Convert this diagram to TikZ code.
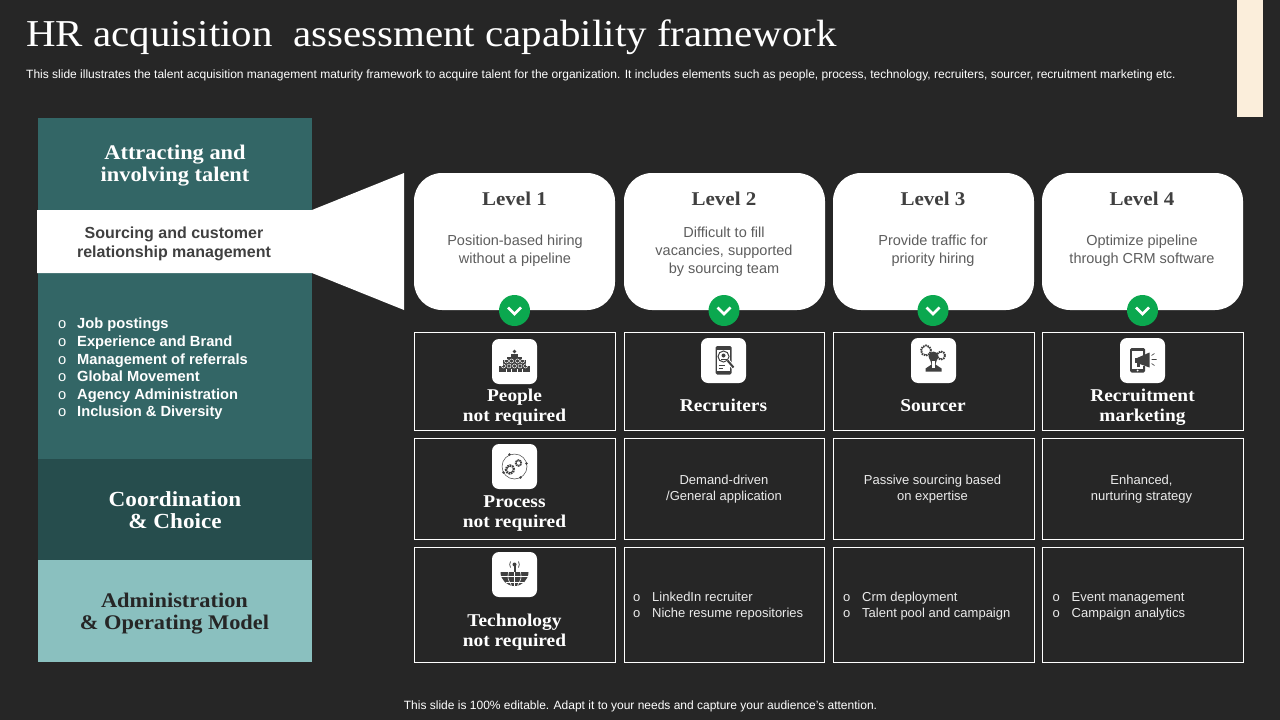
\documentclass[tikz,border=0pt]{standalone}
\usepackage{fontspec}
\setmainfont[FakeStretch=1.077]{Liberation Serif}
\setsansfont{Liberation Sans}
\usetikzlibrary{calc}
\definecolor{slidebg}{HTML}{262626}
\definecolor{tealmid}{HTML}{336666}
\definecolor{tealdark}{HTML}{264D4D}
\definecolor{teallight}{HTML}{8AC0BF}
\definecolor{cream}{HTML}{FBEEDB}
\definecolor{btngreen}{HTML}{0BA84F}
\definecolor{inkgrey}{HTML}{404040}
\newcommand{\cardradius}{28pt}
\newcommand{\iconradius}{7pt}
\tikzset{
  panel/.style={fill=#1, draw=none, minimum width=274pt, anchor=north west, inner sep=0pt},
  head/.style={align=center, font=\fontsize{20.8}{22}\selectfont\bfseries, inner sep=0pt},
  card/.style={fill=white, rounded corners=\cardradius},
  levelname/.style={font=\fontsize{19.5}{22}\selectfont\bfseries, text=inkgrey, inner sep=0pt},
  leveltext/.style={font=\sffamily\fontsize{14.5}{17.8}\selectfont, text=inkgrey!85, align=center, inner sep=0pt},
  cell/.style={draw=white, line width=1pt, anchor=north west, inner sep=0pt},
  celltext/.style={font=\sffamily\fontsize{13}{16}\selectfont, text=white!92!black, align=center, inner sep=0pt},
  cellhead/.style={font=\fontsize{18}{20}\selectfont\bfseries, text=white, align=center, inner sep=0pt},
  celllist/.style={font=\sffamily\fontsize{13}{16}\selectfont, text=white!92!black, align=left, anchor=west, inner sep=0pt},
  iconbox/.style={fill=white, rounded corners=\iconradius, minimum size=45pt, inner sep=0pt},
  gobtn/.style={circle, fill=btngreen, minimum size=31pt, inner sep=0pt},
  glyph/.style={fill=inkgrey, draw=none},
  glyphline/.style={draw=inkgrey, line width=1pt}
}
\newcommand{\chevron}[1]{\draw[white, line width=2.5pt] ($(#1)+(-6.5,-3)$) -- ($(#1)+(0,3.5)$) -- ($(#1)+(6.5,-3)$);}
\newcommand{\bul}{\makebox[19pt][l]{\mdseries o}}
\begin{document}
\begin{tikzpicture}[x=1pt,y=-1pt]
\useasboundingbox (0,0) rectangle (1280,720);
\fill[slidebg] (0,0) rectangle (1280,720);
\fill[cream] (1237,0) rectangle (1263,117);
%title
\node[anchor=west, text=white, font=\fontsize{38}{40}\selectfont, inner sep=0pt] (title) at (26,37) {HR acquisition\ \ assessment capability framework};
\node[anchor=west, text=white, font=\sffamily\fontsize{12}{14}\selectfont, inner sep=0pt] (subtitle) at (26,75) {This slide illustrates the talent acquisition management maturity framework to acquire talent for the organization. It includes elements such as people, process, technology, recruiters, sourcer, recruitment marketing etc.};
\node[text=white, font=\sffamily\fontsize{12}{14}\selectfont, inner sep=0pt] (footer) at (640.5,706) {This slide is 100\% editable. Adapt it to your needs and capture your audience's attention.};
%left panel
\node[panel=tealmid, minimum height=92pt] (attract) at (38,118) {};
\node[panel=tealmid, minimum height=186pt] (items) at (38,273) {};
\node[panel=tealdark, minimum height=101pt] (coord) at (38,459) {};
\node[panel=teallight, minimum height=102pt] (admin) at (38,560) {};
\fill[white] (37,210) -- (312,210) -- (404,173) -- (404,310) -- (312,273) -- (37,273) -- cycle;
\node[head, text=white] (attractlabel) at (175,166) {Attracting and\\involving talent};
\node[align=center, text=inkgrey, font=\sffamily\bfseries\fontsize{16}{19}\selectfont, inner sep=0pt] (sourcing) at (174,244) {Sourcing and customer\\relationship management};
\node[anchor=west, align=left, text=white, font=\sffamily\bfseries\fontsize{14.7}{17.6}\selectfont, inner sep=0pt] (itemlist) at (58,369) {\bul Job postings\\\bul Experience and Brand\\\bul Management of referrals\\\bul Global Movement\\\bul Agency Administration\\\bul Inclusion \& Diversity};
\node[head, font=\fontsize{21.5}{22}\selectfont\bfseries, text=white] (coordlabel) at (175,510) {Coordination\\\& Choice};
\node[head, text=slidebg] (adminlabel) at (174.5,613.5) {Administration\\\& Operating Model};
%levels
\fill[card] (414,173) rectangle (615,310);
\fill[card] (624,173) rectangle (825,310);
\fill[card] (833,173) rectangle (1034,310);
\fill[card] (1042,173) rectangle (1243,310);
\node[levelname] (lvl1) at (514.5,199) {Level 1};
\node[levelname] (lvl2) at (724,199) {Level 2};
\node[levelname] (lvl3) at (933,199) {Level 3};
\node[levelname] (lvl4) at (1142,199) {Level 4};
\node[leveltext] (lvltext1) at (515,251) {Position-based hiring\\without a pipeline};
\node[leveltext] (lvltext2) at (724,251.5) {Difficult to fill\\vacancies, supported\\by sourcing team};
\node[leveltext] (lvltext3) at (933,251) {Provide traffic for\\priority hiring};
\node[leveltext] (lvltext4) at (1142,251) {Optimize pipeline\\through CRM software};
\node[gobtn] (btn1) at (514.5,310.5) {};
\node[gobtn] (btn2) at (724,310.5) {};
\node[gobtn] (btn3) at (933,310.5) {};
\node[gobtn] (btn4) at (1142.5,310.5) {};
\chevron{btn1}
\chevron{btn2}
\chevron{btn3}
\chevron{btn4}
%row 1
\node[cell, minimum width=201pt, minimum height=98pt] (c11) at (414,332) {};
\node[cell, minimum width=200pt, minimum height=98pt] (c12) at (624,332) {};
\node[cell, minimum width=200.5pt, minimum height=98pt] (c13) at (833,332) {};
\node[cell, minimum width=201pt, minimum height=98pt] (c14) at (1042,332) {};
%row 2
\node[cell, minimum width=201pt, minimum height=101pt] (c21) at (414,438) {};
\node[cell, minimum width=200pt, minimum height=101pt] (c22) at (624,438) {};
\node[cell, minimum width=200.5pt, minimum height=101pt] (c23) at (833,438) {};
\node[cell, minimum width=201pt, minimum height=101pt] (c24) at (1042,438) {};
%row 3
\node[cell, minimum width=201pt, minimum height=115pt] (c31) at (414,547) {};
\node[cell, minimum width=200pt, minimum height=115pt] (c32) at (624,547) {};
\node[cell, minimum width=200.5pt, minimum height=115pt] (c33) at (833,547) {};
\node[cell, minimum width=201pt, minimum height=115pt] (c34) at (1042,547) {};
%cell texts
\node[cellhead] (people) at (514.5,407) {People\\not required};
\node[cellhead] (recruiters) at (723.5,405.5) {Recruiters};
\node[cellhead] (sourcer) at (933,405.5) {Sourcer};
\node[cellhead] (marketing) at (1142.5,407) {Recruitment\\marketing};
\node[cellhead] (process) at (514.5,513.5) {Process\\not required};
\node[celltext] (demand) at (724,489.5) {Demand-driven\\/General application};
\node[celltext] (passive) at (932.5,489.5) {Passive sourcing based\\on expertise};
\node[celltext] (enhanced) at (1141.5,489.5) {Enhanced,\\nurturing strategy};
\node[cellhead] (technology) at (514.5,632) {Technology\\not required};
\node[celllist] (linkedin) at (633,606) {\bul LinkedIn recruiter\\\bul Niche resume repositories};
\node[celllist] (crm) at (843,606) {\bul Crm deployment\\\bul Talent pool and campaign};
\node[celllist] (event) at (1052.5,606) {\bul Event management\\\bul Campaign analytics};
%icons
\node[iconbox] (icpeople) at (514.5,361.5) {};
\node[iconbox] (icrecruit) at (723.5,360.5) {};
\node[iconbox] (icsourcer) at (933.5,360.5) {};
\node[iconbox] (icmarket) at (1142.5,360.5) {};
\node[iconbox] (icprocess) at (514.5,466.5) {};
\node[iconbox] (ictech) at (514.5,574.5) {};
%people glyph
\begin{scope}[shift={(icpeople.center)}]
\fill[glyph] (0,-10) circle (1.8pt);
\fill[glyph] (-3.5,-8) rectangle (3.5,-4);
\fill[glyph] (-7.5,-5) rectangle (7.5,-1);
\fill[glyph] (-11.5,-1.5) rectangle (11.5,4);
\fill[glyph] (-15.5,4) rectangle (15.5,10.5);
\draw[white, line width=.5pt] (-8,-.5) circle (2pt) (-3,-.5) circle (2pt) (3,-.5) circle (2pt) (8,-.5) circle (2pt);
\draw[white, line width=.5pt] (-11,4.5) circle (2pt) (-5.5,4.5) circle (2pt) (0,4.5) circle (2pt) (5.5,4.5) circle (2pt) (11,4.5) circle (2pt);
\draw[white, line width=.5pt] (-8,7) -- (-8,10.5) (-3,7) -- (-3,10.5) (3,7) -- (3,10.5) (8,7) -- (8,10.5);
\end{scope}
%recruiter glyph
\begin{scope}[shift={(icrecruit.center)}]
\fill[glyph, rounded corners=1.5pt] (-8,-14.5) rectangle (8,14);
\fill[white] (-6.5,-11) rectangle (6.5,10.5);
\draw[glyphline] (0,-4) circle (5.5pt);
\fill[glyph] (0,-5) circle (2pt);
\fill[glyph] (-3,-1.5) rectangle (3,-.5);
\draw[draw=white, line width=4pt] (4,0) -- (10,7);
\draw[draw=inkgrey, line width=2pt] (4,0) -- (10,7);
\draw[draw=inkgrey, line width=.7pt] (-5,5) -- (1,5) (-5,8) -- (-1,8);
\end{scope}
%sourcer glyph
\begin{scope}[shift={(icsourcer.center)}]
\draw[draw=inkgrey, line width=2pt, dash pattern=on 1.5pt off .8pt] (-7.5,-10) circle (5pt);
\draw[draw=inkgrey, line width=2pt, dash pattern=on 1.5pt off .8pt] (7.5,-5) circle (4pt);
\fill[glyph] (0,-4) circle (5pt);
\fill[glyph] (-4,-3) -- (4,-3) -- (2,4) -- (8,8) -- (8,11) -- (-8,11) -- (-8,8) -- (-2,4) -- cycle;
\fill[white] (-1.5,0) rectangle (1.5,7);
\end{scope}
%marketing glyph
\begin{scope}[shift={(icmarket.center)}]
\fill[glyph, rounded corners=1.5pt] (-12.5,-12.5) rectangle (2.5,12);
\fill[white] (-10.5,-9.5) rectangle (.5,8);
\fill[white] (-6,-5) rectangle (3,5);
\fill[glyph] (-5.5,-2.5) -- (7,-8) -- (7,7) -- (-5.5,2.5) -- cycle;
\fill[glyph] (-8,-2.5) rectangle (-4,2.5);
\fill[glyph] (-5.5,2) rectangle (-2.5,6);
\fill[white] (-5,10) circle (1pt);
\draw[draw=inkgrey, line width=.6pt] (9,-5) -- (12,-7) (9,-1) -- (14,-1) (9,3) -- (12,5);
\end{scope}
%process glyph
\begin{scope}[shift={(icprocess.center)}]
\draw[draw=inkgrey, line width=.5pt] (0,0) circle (12.5pt);
\draw[draw=inkgrey, line width=2.4pt, dash pattern=on 1.6pt off .8pt] (-4.5,3) circle (4pt);
\draw[draw=inkgrey, line width=1.8pt, dash pattern=on 1.4pt off .7pt] (4,-3.5) circle (2.8pt);
\fill[glyph] (12,-3) circle (1.3pt);
\fill[glyph] (-5,-12) circle (1.3pt);
\fill[glyph] (-11,6) circle (1.3pt);
\fill[glyph] (6,11) circle (1.3pt);
\end{scope}
%tech glyph
\begin{scope}[shift={(ictech.center)}]
\fill[glyph] (14,-2.5) arc[start angle=0, end angle=-180, radius=14pt] -- cycle;
\draw[white, line width=.6pt] (-14,2) -- (14,2) (-9,8) -- (9,8) (0,-2.5) -- (0,11.5);
\draw[white, line width=.6pt] (-6,-2.5) .. controls (-7,4) .. (-3,11) (6,-2.5) .. controls (7,4) .. (3,11);
\fill[glyph] (-1,-9) rectangle (1,-2.5);
\fill[glyph] (0,-10) circle (2pt);
\draw[draw=inkgrey, line width=.7pt] (-4,-13) arc[start angle=150, end angle=210, radius=6pt];
\draw[draw=inkgrey, line width=.7pt] (4,-13) arc[start angle=30, end angle=-30, radius=6pt];
\end{scope}
\end{tikzpicture}
\end{document}
